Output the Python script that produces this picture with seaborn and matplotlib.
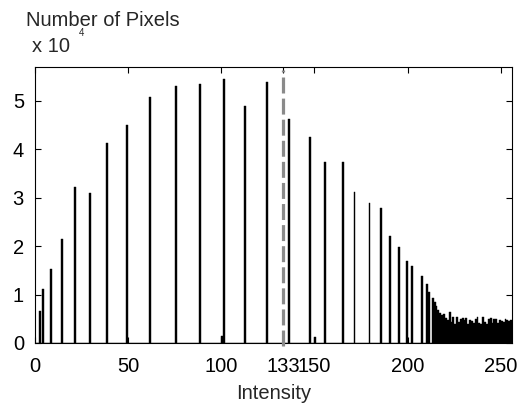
import numpy as np
import pandas as pd
import matplotlib
matplotlib.use('Agg')
import matplotlib.pyplot as plt
import seaborn as sns

# histogram bins (intensity level) and pixel counts
intensity = [2, 4, 8, 14, 21, 29, 38, 49, 61, 75, 88, 100, 101, 112, 124,
             136, 147, 150, 155, 165, 171, 179, 185, 190, 195, 199, 202, 207,
             210, 211, 213, 214, 215, 216, 217, 218, 219, 220, 221, 222,
             223, 224, 225, 226, 227, 228, 229, 230, 231, 232, 233, 234, 235,
             236, 237, 238, 239, 240, 241, 242, 243, 244, 245, 246, 247, 248,
             249, 250, 251, 252, 253, 254, 255]
pixels = [6700, 11200, 15300, 21500, 32200, 31000, 41400, 45100, 50900, 53000,
          53400, 1400, 54600, 48900, 53800,
          46300, 42600, 1200, 37300, 37300, 31100, 29000, 27800, 22000, 19900,
          17000, 15800, 13800,
          12200, 10500, 9200, 8400, 7600, 6800, 6200, 5800, 6000, 5200, 4700, 6300,
          4400, 5400, 4000, 5300, 4400, 5000, 5100, 4700, 5200, 4000, 4700, 4600,
          4200, 4900, 5300, 4200, 3900, 5400, 4400, 4000, 4900, 5100, 4200, 4900,
          5000, 4200, 4700, 4600, 4300, 4900, 4700, 4500, 4800]
threshold = 133
xticks = [0, 50, 100, 133, 150, 200, 250]
yticks = [0, 1, 2, 3, 4, 5]

sns.set_style('ticks')
plt.rcParams['font.family'] = ['Liberation Sans', 'DejaVu Sans']

df = pd.DataFrame({'Intensity': intensity, 'Pixels': np.array(pixels) / 1e4})

fig = plt.figure(figsize=(5.28, 4.07), dpi=100)
ax = fig.add_axes([35 / 528, 1 - 343 / 407, (512 - 35) / 528, (343 - 67) / 407])

sns.histplot(data=df, x='Intensity', weights='Pixels', binwidth=1,
             binrange=(0, 256), color='black', edgecolor='black', linewidth=0.3,
             alpha=1, ax=ax)

ax.axvline(threshold, ymin=-0.012, ymax=0.99, color='#8a8a8a', lw=2.3,
           dashes=(5, 1.6), clip_on=False, zorder=3)

ax.set_xlim(0, 256)
ax.set_ylim(0, 5.7)
ax.set_xticks(xticks)
ax.set_xticklabels([str(t) for t in xticks])
ax.set_yticks(yticks)
ax.set_yticklabels([str(t) for t in yticks])
ax.tick_params(direction='in', top=True, right=True, length=4, width=0.8,
               labelsize=14.5, colors='black')
ax.tick_params(axis='y', pad=8)
ax.tick_params(axis='x', pad=10)
for sp in ax.spines.values():
    sp.set_visible(True)
    sp.set_color('black')
    sp.set_linewidth(0.8)

ax.set_xlabel('Intensity', fontsize=14.5, labelpad=6)
ax.set_ylabel('')

fig.text(26 / 528, 1 - 20 / 407, 'Number of Pixels', fontsize=14.5,
         ha='left', va='center')
fig.text(32 / 528, 1 - 47 / 407, 'x 10', fontsize=14.5, ha='left', va='center')
fig.text(79 / 528, 1 - 33 / 407, '4', fontsize=7, ha='left', va='center')

plt.savefig('out.png', dpi=100)
plt.close()
